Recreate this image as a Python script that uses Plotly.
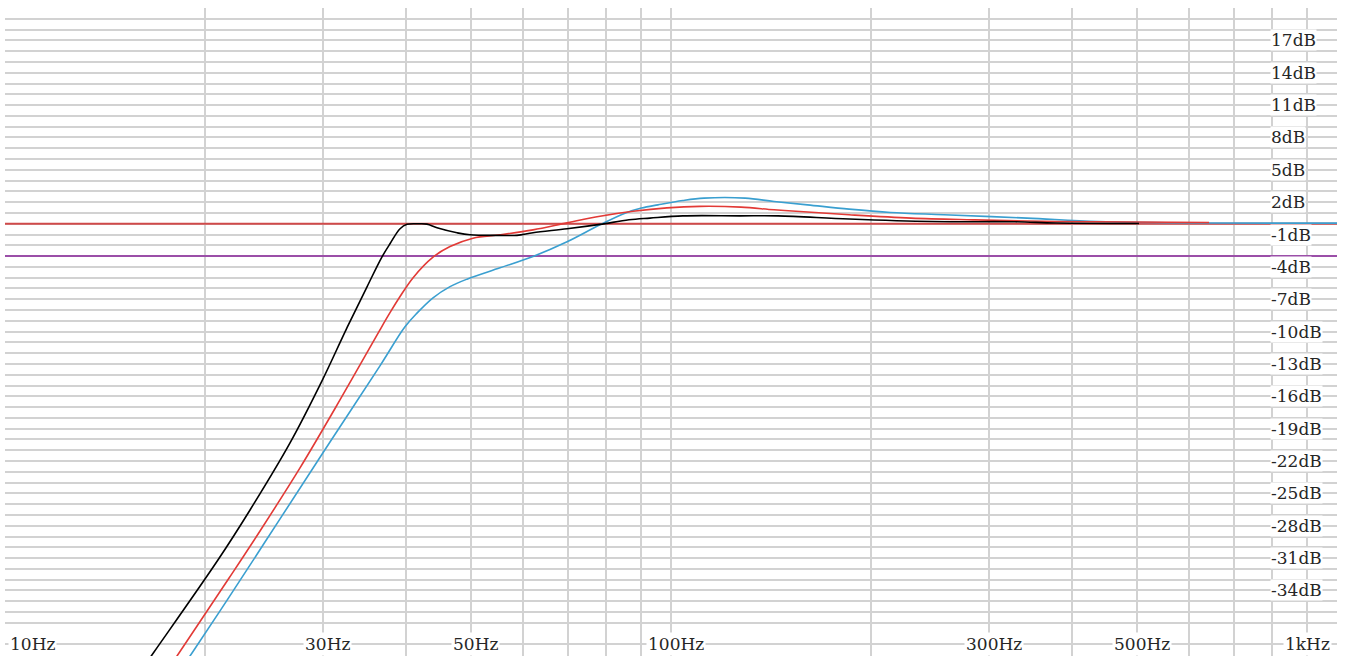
import math
import plotly.graph_objects as go

# ---------------- data ----------------
freq_black = [16.03, 16.74, 20.88, 23.33, 26.79, 29.92, 32.51, 34.96, 36.82, 37.85,
              39.19, 40.15, 41.70, 43.02, 44.53, 47.72, 49.91, 55.37, 58.72, 62.06,
              69.81, 78.23, 86.48, 92.99, 104.2, 126.9, 144.8, 185.1, 246.6, 328.5,
              378.6, 504.3]
db_black = [-41.38, -39.71, -31.18, -26.54, -20.32, -14.57, -9.84, -5.85, -3.07, -1.86,
            -0.47, -0.06, -0.01, -0.04, -0.38, -0.84, -1.03, -1.08, -1.08, -0.84,
            -0.47, -0.06, 0.36, 0.52, 0.73, 0.73, 0.73, 0.43, 0.20, 0.18,
            0.06, 0.02]

freq_red = [17.51, 18.25, 21.70, 24.15, 27.73, 31.84, 36.56, 37.85, 39.19, 41.00,
            43.92, 46.58, 50.43, 55.37, 62.06, 69.81, 78.23, 87.70, 98.60, 110.5,
            127.4, 142.8, 160.3, 185.1, 229.3, 284.1, 378.6, 642.5]
db_red = [-41.47, -39.80, -32.85, -28.49, -22.64, -16.34, -9.84, -8.25, -6.75, -5.00,
          -3.10, -2.12, -1.34, -1.03, -0.57, 0.08, 0.69, 1.15, 1.47, 1.61,
          1.54, 1.29, 1.08, 0.83, 0.52, 0.36, 0.20, 0.11]

freq_cyan = [18.31, 19.09, 21.70, 25.88, 30.76, 36.56, 39.86, 41.55, 43.92, 46.58,
             49.40, 55.37, 62.06, 69.81, 78.23, 85.29, 90.29, 95.60, 104.2, 112.1,
             129.2, 142.8, 160.3, 185.1, 213.6, 257.0, 342.4, 437.7, 642.5, 1000.0]
db_cyan = [-41.47, -39.80, -34.62, -27.37, -20.24, -13.18, -9.56, -8.29, -6.87, -5.83,
           -5.14, -4.09, -3.04, -1.68, -0.10, 0.98, 1.45, 1.75, 2.15, 2.37,
           2.37, 2.06, 1.75, 1.35, 1.04, 0.83, 0.52, 0.20, 0.06, 0.05]

ref_levels = [0, -3]          # horizontal reference lines (dB)
ref_span = [10, 1000]         # Hz

x_label_vals = [10, 30, 50, 100, 300, 500, 1000]
x_label_text = ["10Hz", "30Hz", "50Hz", "100Hz", "300Hz", "500Hz", "1kHz"]
x_grid_vals = [20, 30, 40, 50, 60, 70, 80, 90, 100,
               200, 300, 400, 500, 600, 700, 800, 900]

y_label_vals = [17, 14, 11, 8, 5, 2, -1, -4, -7, -10, -13, -16, -19, -22, -25, -28, -31, -34]
y_label_text = [f"{v}dB" for v in y_label_vals]
y_grid_vals = [v for v in range(-39, 21) if v != -38]

# ---------------- styling ----------------
FONT = dict(family="DejaVu Serif", size=17, color="#262626")
GRID = "#d2d2d2"

fig = go.Figure()

ref_colors = ["#d04a4a", "#9b4fa8"]
for lvl, col in zip(ref_levels, ref_colors):
    fig.add_trace(go.Scatter(x=ref_span, y=[lvl, lvl], mode="lines",
                             line=dict(color=col, width=2), hoverinfo="skip",
                             showlegend=False))

fig.add_trace(go.Scatter(x=freq_cyan, y=db_cyan, mode="lines", line_shape="spline",
                         line=dict(color="#3a9fd0", width=1.6), showlegend=False))
fig.add_trace(go.Scatter(x=freq_red, y=db_red, mode="lines", line_shape="spline",
                         line=dict(color="#e23a36", width=1.6), showlegend=False))
fig.add_trace(go.Scatter(x=freq_black, y=db_black, mode="lines", line_shape="spline",
                         line=dict(color="#000000", width=1.6), showlegend=False))

annotations = []
# y labels (left-aligned near the 800 Hz grid line)
for v, t in zip(y_label_vals, y_label_text):
    annotations.append(dict(x=math.log10(800), y=v, xref="x", yref="y", text=t,
                            showarrow=False, xanchor="left", yanchor="middle",
                            xshift=-2, bgcolor="white", borderpad=0, font=FONT))
# x labels
for v, t in zip(x_label_vals, x_label_text):
    if v == x_label_vals[0]:
        anchor, shift = "left", 3
    elif v == x_label_vals[-1]:
        anchor, shift = "right", -5
    else:
        anchor, shift = "center", 5
    annotations.append(dict(x=math.log10(v), y=-39, xref="x", yref="y", text=t,
                            showarrow=False, xanchor=anchor, yanchor="middle",
                            xshift=shift, bgcolor="white", borderpad=1, font=FONT))

fig.update_layout(
    width=1347, height=656,
    margin=dict(l=5, r=10, t=8, b=0),
    paper_bgcolor="white", plot_bgcolor="white",
    annotations=annotations,
    showlegend=False,
)
fig.update_xaxes(type="log", range=[1, 3], tickmode="array", tickvals=x_grid_vals,
                 showticklabels=False, ticks="", showgrid=True, gridcolor=GRID,
                 gridwidth=1.5, zeroline=False, showline=False, fixedrange=True)
fig.update_yaxes(range=[-40.08, 20], tickmode="array", tickvals=y_grid_vals,
                 showticklabels=False, ticks="", showgrid=True, gridcolor=GRID,
                 gridwidth=1.5, zeroline=False, showline=False, fixedrange=True)

fig.write_html("out.html", config={"displayModeBar": False},
               post_script="document.body.style.margin='0';document.body.style.overflow='hidden';")
